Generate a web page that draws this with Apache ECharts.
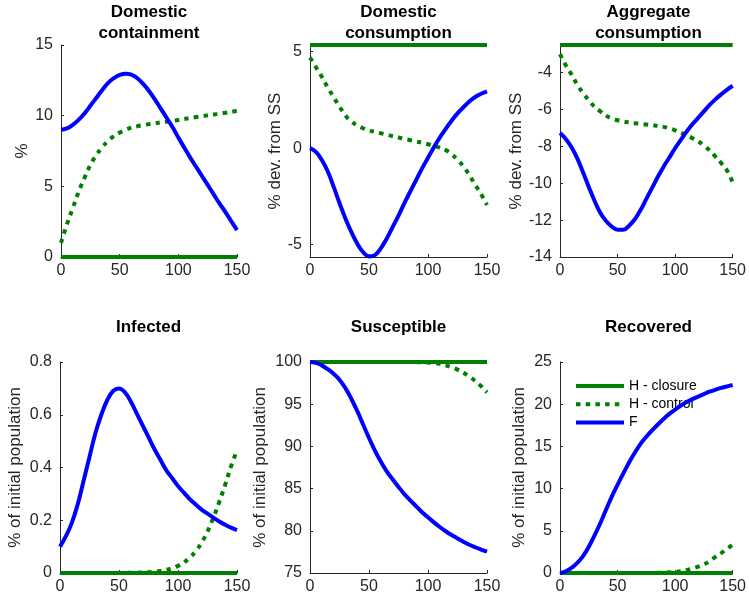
<!DOCTYPE html>
<html><head><meta charset="utf-8">
<script src="https://cdn.jsdelivr.net/npm/echarts@6/dist/echarts.min.js"></script>
<style>html,body{margin:0;padding:0;background:#fff}#c{width:749px;height:604px}</style>
</head><body><div id="c"></div>
<script>
// ---------- data ----------
const t = [0,5,10,15,20,25,30,35,40,45,50,55,60,65,70,75,80,85,90,95,100,105,110,115,120,125,130,135,140,145,150];
const xTicks = [0,50,100,150];
const seriesNames = ['H - closure','H - control','F'];

// Domestic containment
const p1Closure = [0,0,0,0,0,0,0,0,0,0,0,0,0,0,0,0,0,0,0,0,0,0,0,0,0,0,0,0,0,0,0];
const p1Control = [1.0,2.3,3.45,4.6,5.6,6.5,7.2,7.75,8.2,8.55,8.8,9.0,9.15,9.25,9.33,9.4,9.46,9.52,9.57,9.63,9.7,9.77,9.83,9.9,9.96,10.02,10.08,10.14,10.2,10.27,10.33];
const p1F = [9.0,9.1,9.35,9.7,10.15,10.7,11.25,11.8,12.3,12.65,12.88,12.97,12.9,12.65,12.25,11.75,11.15,10.5,9.85,9.2,8.45,7.75,7.05,6.4,5.75,5.1,4.45,3.8,3.2,2.55,1.9];
const p1YTicks = [0,5,10,15];

// Domestic consumption
const p2Closure = [5.35,5.35,5.35,5.35,5.35,5.35,5.35,5.35,5.35,5.35,5.35,5.35,5.35,5.35,5.35,5.35,5.35,5.35,5.35,5.35,5.35,5.35,5.35,5.35,5.35,5.35,5.35,5.35,5.35,5.35,5.35];
const p2Control = [4.7,4.2,3.7,3.15,2.65,2.15,1.7,1.38,1.18,1.03,0.92,0.84,0.77,0.7,0.62,0.55,0.48,0.41,0.34,0.28,0.2,0.12,0.02,-0.1,-0.32,-0.6,-0.95,-1.4,-1.9,-2.4,-2.95];
const p2F = [0,-0.2,-0.62,-1.2,-2.0,-2.85,-3.65,-4.35,-4.95,-5.4,-5.62,-5.55,-5.2,-4.7,-4.1,-3.5,-2.85,-2.25,-1.65,-1.05,-0.5,0.05,0.55,1.0,1.42,1.8,2.12,2.42,2.65,2.82,2.95];
const p2YTicks = [-5,0,5];

// Aggregate consumption
const p3Closure = [-2.5,-2.5,-2.5,-2.5,-2.5,-2.5,-2.5,-2.5,-2.5,-2.5,-2.5,-2.5,-2.5,-2.5,-2.5,-2.5,-2.5,-2.5,-2.5,-2.5,-2.5,-2.5,-2.5,-2.5,-2.5,-2.5,-2.5,-2.5,-2.5,-2.5,-2.5];
const p3Control = [-3.0,-3.6,-4.1,-4.65,-5.1,-5.5,-5.85,-6.1,-6.33,-6.48,-6.58,-6.65,-6.7,-6.74,-6.78,-6.81,-6.85,-6.89,-6.94,-7.02,-7.13,-7.26,-7.4,-7.55,-7.72,-7.95,-8.22,-8.55,-8.9,-9.3,-9.95];
const p3F = [-7.28,-7.6,-8.05,-8.65,-9.4,-10.2,-10.95,-11.6,-12.05,-12.35,-12.52,-12.52,-12.3,-11.95,-11.45,-10.85,-10.25,-9.65,-9.1,-8.6,-8.1,-7.65,-7.2,-6.8,-6.45,-6.1,-5.75,-5.45,-5.18,-4.93,-4.71];
const p3YTicks = [-14,-12,-10,-8,-6,-4];

// Infected
const p4Closure = [0,0,0,0,0,0,0,0,0,0,0,0,0,0,0,0,0,0,0,0,0,0,0,0,0,0,0,0,0,0,0];
const p4Control = [0,0,0,0,0,0,0,0,0,0,0,0,0.001,0.001,0.002,0.003,0.005,0.008,0.012,0.018,0.027,0.04,0.058,0.083,0.115,0.157,0.21,0.27,0.335,0.405,0.465];
const p4F = [0.10,0.14,0.19,0.26,0.35,0.44,0.53,0.6,0.655,0.69,0.70,0.685,0.65,0.605,0.56,0.515,0.47,0.43,0.39,0.36,0.33,0.305,0.28,0.26,0.24,0.225,0.21,0.195,0.183,0.172,0.163];
const p4YTicks = [0,0.2,0.4,0.6,0.8];

// Susceptible
const p5Closure = [100,100,100,100,100,100,100,100,100,100,100,100,100,100,100,100,100,100,100,100,100,100,100,100,100,100,100,100,100,100,100];
const p5Control = [100,100,100,100,100,100,100,100,100,100,100,100,100,100,100,100,100,100,99.98,99.96,99.93,99.88,99.78,99.6,99.38,99.1,98.73,98.28,97.75,97.12,96.4];
const p5F = [100,99.9,99.6,99.15,98.6,97.9,96.9,95.65,94.2,92.6,91.0,89.5,88.2,87.05,86.1,85.2,84.35,83.6,82.9,82.2,81.6,81.0,80.45,79.95,79.5,79.1,78.7,78.35,78.05,77.78,77.52];
const p5YTicks = [75,80,85,90,95,100];

// Recovered
const p6Closure = [0,0,0,0,0,0,0,0,0,0,0,0,0,0,0,0,0,0,0,0,0,0,0,0,0,0,0,0,0,0,0];
const p6Control = [0,0,0,0,0,0,0,0,0,0,0,0,0,0,0,0,0,0.02,0.05,0.08,0.13,0.22,0.35,0.52,0.75,1.02,1.4,1.9,2.35,2.85,3.35];
const p6F = [0,0.2,0.6,1.2,2.0,3.1,4.45,5.9,7.5,9.05,10.45,11.8,13.1,14.25,15.3,16.15,16.9,17.6,18.25,18.85,19.35,19.85,20.25,20.6,20.9,21.2,21.48,21.72,21.93,22.1,22.27];
const p6YTicks = [0,5,10,15,20,25];

// ---------- layout ----------
const FONT = '"Liberation Sans", Arial, Helvetica, sans-serif';
const AXIS_COLOR = '#262626';
const GREEN = '#008000', BLUE = '#0000ff';

const panels = [
  {title:'Domestic\ncontainment', yName:'%', yMin:0, yMax:15, yTicks:p1YTicks, s:[p1Closure,p1Control,p1F],
   grid:{left:61,top:45,width:176,height:212}, nameGap:30, tx:149, ty:1.5},
  {title:'Domestic\nconsumption', yName:'% dev. from SS', yMin:-5.65, yMax:5.35, yTicks:p2YTicks, s:[p2Closure,p2Control,p2F],
   grid:{left:310,top:45,width:177,height:212}, nameGap:26, tx:398.5, ty:1.5},
  {title:'Aggregate\nconsumption', yName:'% dev. from SS', yMin:-14, yMax:-2.5, yTicks:p3YTicks, s:[p3Closure,p3Control,p3F],
   grid:{left:560,top:45,width:177,height:212}, nameGap:35, tx:648.5, ty:1.5},
  {title:'Infected', yName:'% of initial population', yMin:0, yMax:0.8, yTicks:p4YTicks, s:[p4Closure,p4Control,p4F],
   grid:{left:60,top:362,width:177,height:211}, nameGap:36, tx:148.5, ty:316.5},
  {title:'Susceptible', yName:'% of initial population', yMin:75, yMax:100, yTicks:p5YTicks, s:[p5Closure,p5Control,p5F],
   grid:{left:310,top:362,width:177,height:211}, nameGap:41, tx:398.5, ty:316.5},
  {title:'Recovered', yName:'% of initial population', yMin:0, yMax:25, yTicks:p6YTicks, s:[p6Closure,p6Control,p6F],
   grid:{left:560,top:362,width:177,height:211}, nameGap:32, tx:648.5, ty:316.5}
];

const styles = [
  {color:GREEN, width:4, type:'solid'},
  {color:GREEN, width:4, type:[4.5,5.2]},
  {color:BLUE, width:4, type:'solid'}
];

const grids = [], xAxes = [], yAxes = [], series = [], graphics = [];
panels.forEach((p, i) => {
  grids.push(Object.assign({}, p.grid));
  xAxes.push({
    type:'value', gridIndex:i, min:0, max:150,
    axisLine:{show:true, onZero:false, lineStyle:{color:AXIS_COLOR, width:1}},
    axisTick:{show:true, inside:true, length:3, customValues:xTicks, lineStyle:{color:AXIS_COLOR}},
    axisLabel:{customValues:xTicks, fontSize:16, color:AXIS_COLOR, margin:6, fontFamily:FONT},
    splitLine:{show:false}
  });
  yAxes.push({
    type:'value', gridIndex:i, min:p.yMin, max:p.yMax,
    name:p.yName, nameLocation:'middle', nameGap:p.nameGap,
    nameTextStyle:{fontSize:17, color:AXIS_COLOR, fontFamily:FONT},
    axisLine:{show:true, onZero:false, lineStyle:{color:AXIS_COLOR, width:1}},
    axisTick:{show:true, inside:true, length:3, customValues:p.yTicks, lineStyle:{color:AXIS_COLOR}},
    axisLabel:{customValues:p.yTicks, fontSize:16, color:AXIS_COLOR, margin:8, fontFamily:FONT},
    splitLine:{show:false}
  });
  p.s.forEach((vals, k) => {
    series.push({
      name:seriesNames[k], type:'line', xAxisIndex:i, yAxisIndex:i,
      data:t.map((x, j) => [x, vals[j]]),
      symbol:'none', showSymbol:false, clip:false, smooth:k === 0 ? false : 0.45,
      lineStyle:Object.assign({}, styles[k]), itemStyle:{color:styles[k].color},
      z:2 + k
    });
  });
  graphics.push({
    type:'text', x:p.tx, y:p.ty,
    style:{text:p.title, align:'center', verticalAlign:'top', fontSize:17, fontWeight:'bold',
           fill:'#000', fontFamily:FONT, lineHeight:21}
  });
});

const chart = echarts.init(document.getElementById('c'), null, {renderer:'canvas'});
chart.setOption({
  animation:false,
  backgroundColor:'#fff',
  grid:grids, xAxis:xAxes, yAxis:yAxes, series:series,
  graphic:graphics,
  legend:{
    orient:'vertical', left:574, top:379, itemWidth:48, itemHeight:14, itemGap:4.3,
    selectedMode:false, padding:0,
    data:seriesNames.map((n, k) => ({name:n, lineStyle:{color:styles[k].color, width:4, type:styles[k].type}})),
    textStyle:{fontSize:14, lineHeight:14, color:'#000', fontFamily:FONT},
    itemStyle:{opacity:0}
  }
});
</script></body></html>
